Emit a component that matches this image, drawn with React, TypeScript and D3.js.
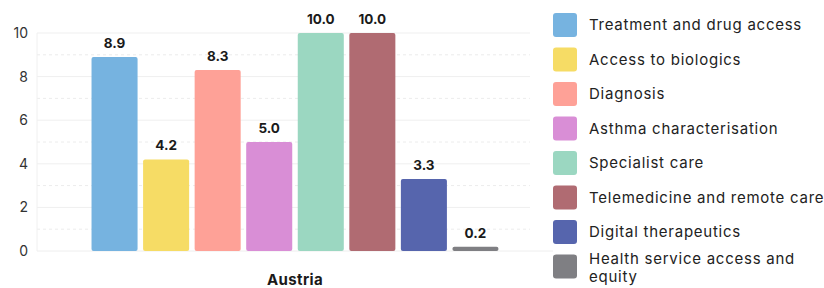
import * as d3 from 'd3';
import { useEffect, useRef } from 'react';

const countries = ['Austria'];
const categories = [
  'Treatment and drug access',
  'Access to biologics',
  'Diagnosis',
  'Asthma characterisation',
  'Specialist care',
  'Telemedicine and remote care',
  'Digital therapeutics',
  'Health service access and equity',
];
const values = [8.9, 4.2, 8.3, 5.0, 10.0, 10.0, 3.3, 0.2];
const colors = ['#76b3e0', '#f6dc65', '#fea197', '#d98ed6', '#9bd7c1', '#b06b72', '#5665ad', '#7f7f83'];
const yTicks = [0, 2, 4, 6, 8, 10];
const yMinor = [1, 3, 5, 7, 9];

const FONT = 'Inter, sans-serif';

const App = () => {
  const svgRef = useRef<SVGSVGElement | null>(null);

  useEffect(() => {
    if (!svgRef.current) return;
    const svg = d3.select(svgRef.current);
    svg.selectAll('*').remove();

    const left = 37;
    const right = 553;
    const gridRight = 530;

    const y = d3.scaleLinear().domain([0, 10]).range([251, 33]);
    const x0 = d3.scaleBand().domain(countries).range([left, right]).paddingOuter(0.134).paddingInner(0);
    const x1 = d3.scaleBand().domain(categories).range([0, x0.bandwidth()]).paddingInner(0.107).paddingOuter(0);

    // grid
    svg.append('g')
      .selectAll('line')
      .data(yMinor)
      .join('line')
      .attr('x1', left).attr('x2', gridRight)
      .attr('y1', d => y(d)).attr('y2', d => y(d))
      .attr('stroke', '#ececec')
      .attr('stroke-dasharray', '3,3');
    svg.append('g')
      .selectAll('line')
      .data(yTicks.filter(d => d > 0))
      .join('line')
      .attr('x1', left).attr('x2', gridRight)
      .attr('y1', d => y(d)).attr('y2', d => y(d))
      .attr('stroke', '#efefef');
    svg.append('line')
      .attr('x1', left).attr('x2', right)
      .attr('y1', y(0)).attr('y2', y(0))
      .attr('stroke', '#eeeeee');
    svg.append('line')
      .attr('x1', left).attr('x2', left)
      .attr('y1', y(0)).attr('y2', y(10))
      .attr('stroke', '#f0f0f0');

    // y labels
    svg.append('g')
      .selectAll('text')
      .data(yTicks)
      .join('text')
      .attr('x', 28)
      .attr('y', d => y(d))
      .attr('dy', '0.35em')
      .attr('text-anchor', 'end')
      .style('font-family', FONT)
      .style('font-size', '14px')
      .style('fill', '#333')
      .text(d => d);

    const g = svg.append('g').attr('transform', `translate(${x0('Austria')},0)`);
    g.selectAll('rect')
      .data(values)
      .join('rect')
      .attr('x', (_, i) => x1(categories[i]) || 0)
      .attr('width', x1.bandwidth())
      .attr('y', d => y(d))
      .attr('height', d => y(0) - y(d))
      .attr('rx', 2)
      .attr('fill', (_, i) => colors[i]);

    g.selectAll('text')
      .data(values)
      .join('text')
      .attr('x', (_, i) => (x1(categories[i]) || 0) + x1.bandwidth() / 2)
      .attr('y', d => y(d) - 9)
      .attr('text-anchor', 'middle')
      .style('font-family', FONT)
      .style('font-size', '13.5px')
      .style('font-weight', 'bold')
      .style('fill', '#1a1a1a')
      .text(d => d.toFixed(1));

    svg.append('text')
      .attr('x', (x0('Austria') || 0) + x0.bandwidth() / 2)
      .attr('y', 285)
      .attr('text-anchor', 'middle')
      .style('font-family', FONT)
      .style('font-size', '15px')
      .style('font-weight', 'bold')
      .style('letter-spacing', '0.4px')
      .style('fill', '#1a1a1a')
      .text('Austria');

    // legend
    const leg = svg.append('g').attr('transform', 'translate(553,13)');
    const rows = leg.selectAll('g')
      .data(categories)
      .join('g')
      .attr('transform', (_, i) => `translate(0,${i * 34.5})`);
    rows.append('rect')
      .attr('width', 24).attr('height', 24).attr('rx', 3)
      .attr('fill', (_, i) => colors[i]);
    rows.append('text')
      .attr('x', 36)
      .style('font-family', FONT)
      .style('font-size', '15px')
      .style('letter-spacing', '0.75px')
      .style('fill', '#222')
      .each(function (d) {
        const t = d3.select(this);
        const lines = d === 'Health service access and equity' ? ['Health service access and', 'equity'] : [d];
        const start = lines.length === 1 ? 12 : 4;
        lines.forEach((l, k) => {
          t.append('tspan').attr('x', 36).attr('y', start + k * 18).attr('dy', '0.35em').text(l);
        });
      });
  }, []);

  return <svg ref={svgRef} width={824} height={288} style={{ position: 'absolute', left: 0, top: 0 }} />;
};

export default App;
